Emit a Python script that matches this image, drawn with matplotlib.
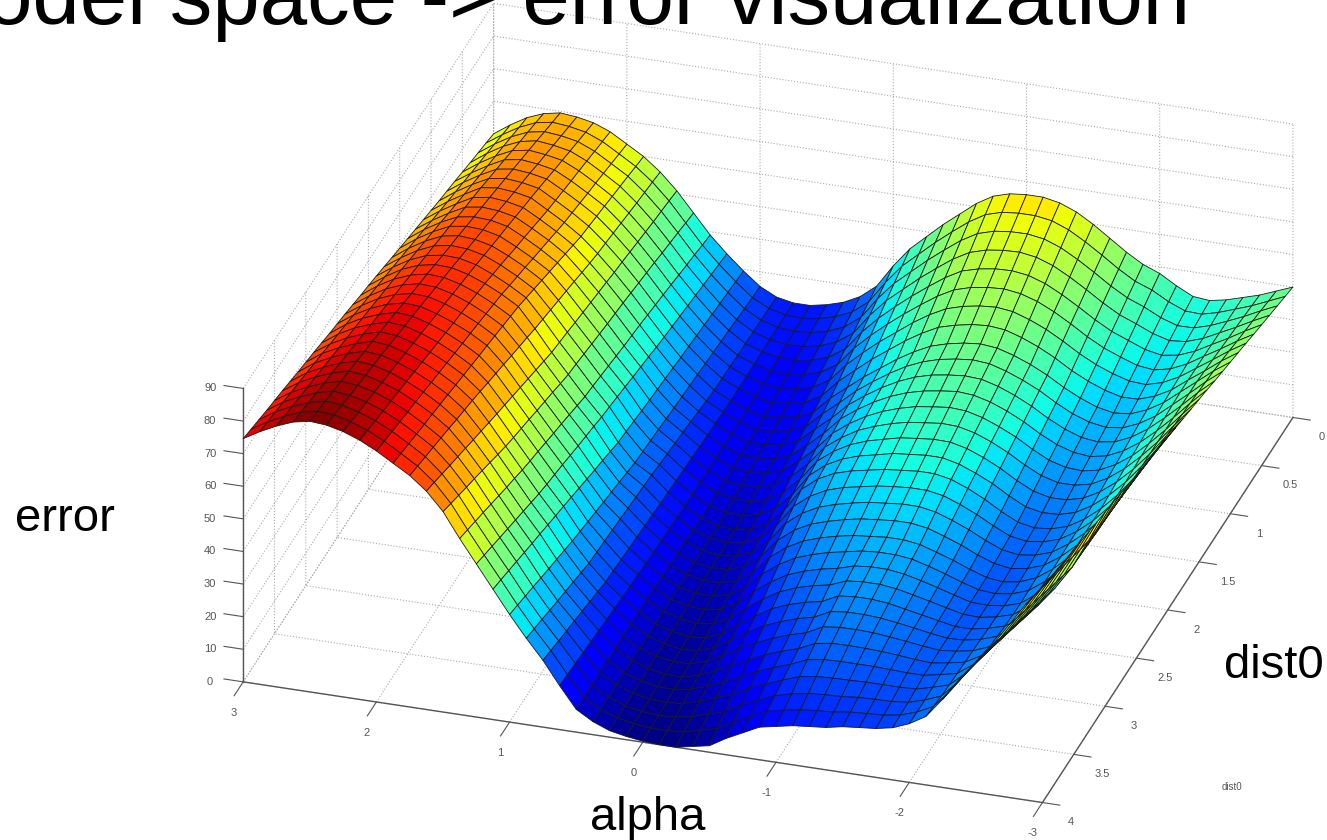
import numpy as np
import matplotlib
matplotlib.use("Agg")
import matplotlib.pyplot as plt

W, H = 1327, 840

alpha = [3 - 0.125 * i for i in range(49)]
dist0 = [0.125 * i for i in range(33)]
alpha_ticks = [-3, -2, -1, 0, 1, 2, 3]
dist_ticks = [0, 0.5, 1, 1.5, 2, 2.5, 3, 3.5, 4]
dist_labels = ['0', '0.5', '1', '1.5', '2', '2.5', '3', '3.5', '4']
error_ticks = [0, 10, 20, 30, 40, 50, 60, 70, 80, 90]

# one row per dist0 value, columns run along alpha from 3 to -3
error_values = [
    [50, 53.5, 56.5, 58.5, 59.5, 59, 58, 56, 53, 50, 46, 41, 35, 29, 24, 19.5, 15.5, 13, 12, 12, 13, 14.5, 17, 21, 28, 34, 38.5, 43, 47, 51, 54, 55.5, 56, 56, 55, 53, 50, 46.5, 43, 40, 38, 35, 32.5, 32, 33, 34.5, 36, 38, 40],
    [50.8, 54.2, 57.2, 59.4, 60.3, 59.8, 58.8, 56.7, 53.7, 50.6, 46.6, 41.6, 35.6, 29.6, 24.5, 19.9, 15.8, 13.2, 12, 11.7, 12.4, 13.8, 16, 19.9, 26.6, 32.4, 36.8, 41.2, 45.2, 49, 52, 53.5, 54, 54, 53.2, 51.2, 48.3, 45, 41.5, 38.5, 36.6, 33.8, 31.7, 31.5, 32.8, 34.6, 36.4, 38.6, 40.8],
    [51.5, 55, 58, 60.2, 61.1, 60.6, 59.6, 57.4, 54.4, 51.3, 47.1, 42.1, 36.3, 30.3, 25, 20.3, 16.1, 13.3, 11.9, 11.4, 11.8, 13, 15.1, 18.8, 25.3, 30.8, 35.1, 39.4, 43.3, 47, 49.9, 51.4, 52, 52.1, 51.3, 49.4, 46.6, 43.4, 40, 37.1, 35.1, 32.6, 30.9, 31, 32.5, 34.6, 36.8, 39.3, 41.6],
    [52.2, 55.8, 58.8, 61, 62, 61.4, 60.4, 58.1, 55.1, 51.9, 47.6, 42.6, 36.9, 30.9, 25.5, 20.6, 16.4, 13.4, 11.8, 11.1, 11.2, 12.2, 14.2, 17.6, 23.9, 29.2, 33.4, 37.6, 41.4, 45, 47.8, 49.3, 50, 50.2, 49.4, 47.6, 44.9, 41.8, 38.5, 35.6, 33.6, 31.4, 30, 30.5, 32.2, 34.7, 37.2, 39.9, 42.4],
    [53, 56.5, 59.5, 61.9, 62.8, 62.2, 61.2, 58.8, 55.8, 52.5, 48.2, 43.2, 37.5, 31.5, 26, 21, 16.8, 13.5, 11.8, 10.8, 10.5, 11.5, 13.2, 16.5, 22.5, 27.5, 31.8, 35.8, 39.5, 43, 45.8, 47.2, 48, 48.2, 47.5, 45.8, 43.2, 40.2, 37, 34.2, 32.2, 30.2, 29.2, 30, 32, 34.8, 37.5, 40.5, 43.2],
    [53.8, 57.2, 60.2, 62.8, 63.6, 63, 62, 59.4, 56.4, 53.2, 48.8, 43.8, 38.2, 32.2, 26.5, 21.4, 17.1, 13.6, 11.7, 10.4, 9.9, 10.8, 12.3, 15.4, 21.2, 25.9, 30.1, 34, 37.6, 41, 43.7, 45.2, 46, 46.3, 45.6, 44, 41.6, 38.7, 35.5, 32.8, 30.8, 29, 28.4, 29.5, 31.8, 34.9, 37.9, 41.1, 44],
    [54.5, 58, 61, 63.6, 64.4, 63.9, 62.9, 60.1, 57.1, 53.8, 49.4, 44.4, 38.8, 32.8, 27, 21.8, 17.4, 13.8, 11.6, 10.1, 9.3, 10, 11.4, 14.3, 19.8, 24.3, 28.4, 32.1, 35.8, 39, 41.6, 43.1, 44, 44.4, 43.8, 42.1, 39.9, 37.1, 34, 31.4, 29.4, 27.9, 27.6, 29, 31.5, 34.9, 38.3, 41.8, 44.9],
    [55.2, 58.8, 61.8, 64.4, 65.2, 64.7, 63.7, 60.8, 57.8, 54.4, 50, 45, 39.4, 33.4, 27.5, 22.2, 17.7, 13.9, 11.6, 9.8, 8.6, 9.2, 10.4, 13.2, 18.4, 22.6, 26.7, 30.3, 33.9, 37, 39.6, 41, 42, 42.4, 41.9, 40.3, 38.2, 35.6, 32.5, 30, 28, 26.7, 26.8, 28.5, 31.2, 35, 38.6, 42.4, 45.7],
    [56, 59.5, 62.5, 65.3, 66, 65.5, 64.5, 61.5, 58.5, 55, 50.5, 45.5, 40, 34, 28, 22.5, 18, 14, 11.5, 9.5, 8, 8.5, 9.5, 12, 17, 21, 25, 28.5, 32, 35, 37.5, 39, 40, 40.5, 40, 38.5, 36.5, 34, 31, 28.5, 26.5, 25.5, 26, 28, 31, 35, 39, 43, 46.5],
    [56.8, 60.3, 63.3, 66, 66.8, 66.3, 65.2, 62.4, 59.4, 56, 51.3, 46.2, 40.6, 34.6, 28.6, 23, 18.3, 14.4, 11.7, 9.5, 7.8, 8, 8.9, 11.2, 15.9, 20, 24.4, 28, 31.3, 34.2, 36.4, 37.9, 38.8, 39.3, 38.9, 37.4, 35.4, 33, 30, 27.4, 25.6, 24.8, 25.4, 27.5, 30.6, 34.8, 39, 43.4, 47.3],
    [57.6, 61.1, 64.1, 66.7, 67.5, 67.1, 66, 63.3, 60.4, 57, 52.1, 46.8, 41.1, 35.1, 29.3, 23.4, 18.6, 14.9, 11.9, 9.5, 7.6, 7.6, 8.3, 10.4, 14.8, 19, 23.8, 27.4, 30.6, 33.3, 35.4, 36.8, 37.6, 38.1, 37.8, 36.4, 34.4, 31.9, 28.9, 26.4, 24.6, 24, 24.8, 27, 30.3, 34.5, 39, 43.8, 48.1],
    [58.4, 62, 65, 67.4, 68.2, 67.9, 66.8, 64.2, 61.3, 58, 53, 47.4, 41.6, 35.6, 29.9, 23.8, 18.9, 15.4, 12, 9.5, 7.4, 7.2, 7.6, 9.6, 13.6, 18, 23.2, 26.8, 29.9, 32.4, 34.3, 35.6, 36.4, 37, 36.6, 35.3, 33.3, 30.8, 27.8, 25.3, 23.7, 23.2, 24.2, 26.5, 29.9, 34.2, 39, 44.2, 49],
    [59.2, 62.8, 65.8, 68.2, 69, 68.7, 67.5, 65, 62.2, 59, 53.8, 48, 42.2, 36.2, 30.5, 24.2, 19.2, 15.8, 12.2, 9.5, 7.2, 6.8, 7, 8.8, 12.5, 17, 22.5, 26.2, 29.2, 31.5, 33.2, 34.5, 35.2, 35.8, 35.5, 34.2, 32.2, 29.8, 26.8, 24.2, 22.8, 22.5, 23.5, 26, 29.5, 34, 39, 44.5, 49.8],
    [60, 63.6, 66.6, 68.9, 69.8, 69.4, 68.2, 65.9, 63.2, 60, 54.6, 48.6, 42.8, 36.8, 31.2, 24.6, 19.6, 16.2, 12.4, 9.5, 7, 6.4, 6.4, 8, 11.4, 16, 21.9, 25.6, 28.6, 30.6, 32.2, 33.4, 34, 34.6, 34.4, 33.2, 31.2, 28.7, 25.7, 23.2, 21.8, 21.8, 22.9, 25.5, 29.2, 33.8, 39, 44.9, 50.6],
    [60.9, 64.4, 67.4, 69.6, 70.5, 70.2, 69, 66.8, 64.1, 61, 55.4, 49.3, 43.4, 37.4, 31.8, 25.1, 19.9, 16.6, 12.6, 9.5, 6.9, 5.9, 5.8, 7.1, 10.3, 15, 21.3, 25.1, 27.9, 29.8, 31.1, 32.3, 32.9, 33.4, 33.3, 32.1, 30.1, 27.6, 24.6, 22.1, 20.9, 21, 22.3, 25, 28.8, 33.5, 39, 45.3, 51.4],
    [61.7, 65.2, 68.2, 70.3, 71.2, 71, 69.8, 67.6, 65, 62, 56.2, 49.9, 44, 38, 32.4, 25.6, 20.2, 17, 12.8, 9.5, 6.7, 5.4, 5.2, 6.3, 9.2, 14, 20.6, 24.6, 27.2, 28.9, 30, 31.2, 31.7, 32.2, 32.2, 31, 29, 26.6, 23.6, 21, 20, 20.2, 21.6, 24.5, 28.4, 33.2, 39, 45.6, 52.2],
    [62.5, 66, 69, 71, 72, 71.8, 70.5, 68.5, 66, 63, 57, 50.5, 44.5, 38.5, 33, 26, 20.5, 17.5, 13, 9.5, 6.5, 5, 4.5, 5.5, 8, 13, 20, 24, 26.5, 28, 29, 30, 30.5, 31, 31, 30, 28, 25.5, 22.5, 20, 19, 19.5, 21, 24, 28, 33, 39, 46, 53],
    [63.2, 66.8, 69.7, 71.7, 72.8, 72.5, 71.2, 69.2, 66.7, 63.7, 58, 51.5, 45.4, 39.4, 33.8, 26.9, 21.2, 17.8, 13.2, 9.7, 6.6, 5, 4.3, 5, 7.3, 12, 18.5, 22.4, 25, 26.6, 27.6, 28.6, 29.2, 29.6, 29.6, 28.7, 26.8, 24.5, 21.8, 19.4, 18.6, 19.2, 20.8, 23.9, 28, 33.2, 39.2, 46.5, 53.8],
    [64, 67.5, 70.4, 72.4, 73.5, 73.2, 71.9, 69.9, 67.4, 64.4, 58.9, 52.5, 46.4, 40.3, 34.5, 27.8, 21.9, 18.1, 13.5, 9.9, 6.8, 4.9, 4.1, 4.6, 6.6, 10.9, 17, 20.9, 23.5, 25.1, 26.3, 27.3, 27.8, 28.3, 28.3, 27.4, 25.6, 23.5, 21, 18.9, 18.1, 18.8, 20.5, 23.8, 28, 33.3, 39.5, 47, 54.6],
    [64.8, 68.2, 71.1, 73.1, 74.2, 74, 72.6, 70.6, 68.1, 65.1, 59.8, 53.5, 47.3, 41.2, 35.2, 28.6, 22.6, 18.4, 13.8, 10, 6.9, 4.8, 4, 4.2, 5.9, 9.8, 15.5, 19.4, 22, 23.6, 24.9, 25.9, 26.4, 26.9, 26.9, 26.1, 24.4, 22.5, 20.2, 18.4, 17.6, 18.4, 20.2, 23.6, 28, 33.4, 39.8, 47.5, 55.4],
    [65.5, 69, 71.8, 73.8, 75, 74.7, 73.2, 71.2, 68.8, 65.8, 60.8, 54.5, 48.2, 42, 36, 29.5, 23.2, 18.8, 14, 10.2, 7, 4.8, 3.8, 3.8, 5.2, 8.8, 14, 17.8, 20.5, 22.2, 23.5, 24.5, 25, 25.5, 25.5, 24.8, 23.2, 21.5, 19.5, 17.8, 17.2, 18, 20, 23.5, 28, 33.5, 40, 48, 56.2],
    [66.2, 69.8, 72.5, 74.4, 75.8, 75.4, 73.9, 71.9, 69.4, 66.4, 61.7, 55.5, 49.2, 42.9, 36.8, 30.4, 23.9, 19.1, 14.2, 10.4, 7.2, 4.7, 3.6, 3.4, 4.6, 7.7, 12.5, 16.2, 19, 20.8, 22.2, 23.2, 24.2, 24.6, 24.6, 24, 22.6, 21, 19.2, 17.7, 17.3, 18, 19.8, 23.4, 28, 33.6, 40.2, 48.5, 57],
    [67, 70.5, 73.2, 75.1, 76.5, 76.1, 74.6, 72.6, 70.1, 67.1, 62.6, 56.5, 50.1, 43.8, 37.5, 31.3, 24.6, 19.4, 14.5, 10.6, 7.3, 4.6, 3.4, 2.9, 3.9, 6.6, 11, 14.6, 17.5, 19.4, 20.8, 21.8, 23.3, 23.8, 23.8, 23.1, 21.9, 20.5, 19, 17.6, 17.4, 18, 19.6, 23.3, 28, 33.8, 40.5, 49, 57.9],
    [67.8, 71.2, 73.8, 75.8, 77.2, 76.8, 75.3, 73.3, 70.8, 67.8, 63.6, 57.5, 51, 44.6, 38.2, 32.2, 25.3, 19.7, 14.8, 10.8, 7.4, 4.6, 3.2, 2.4, 3.2, 5.6, 9.5, 13, 16, 18, 19.4, 20.4, 22.4, 22.9, 22.9, 22.3, 21.2, 20, 18.8, 17.6, 17.4, 18.3, 19.8, 23.2, 28, 33.9, 40.8, 49.5, 58.7],
    [68.5, 72, 74.5, 76.5, 78, 77.5, 76, 74, 71.5, 68.5, 64.5, 58.5, 52, 45.5, 39, 33, 26, 20, 15, 11, 7.5, 4.5, 3, 2, 2.5, 4.5, 8, 11.5, 14.5, 16.5, 18, 19, 21.5, 22, 22, 21.5, 20.5, 19.5, 18.5, 17.5, 17.5, 18.5, 20, 23, 28, 34, 41, 50, 59.5],
    [69.2, 72.7, 75.2, 77.2, 78.6, 78.2, 76.7, 74.7, 72.2, 69.2, 65.3, 59.6, 53.2, 46.6, 40, 33.9, 26.9, 20.8, 15.7, 11.3, 7.4, 4.4, 2.9, 1.9, 2.2, 4, 7, 10.2, 13, 15, 16.7, 17.9, 20.4, 21, 21, 20.7, 20, 19.2, 18.3, 17.6, 17.8, 18.8, 20.5, 24.4, 29.5, 35.5, 42.5, 51.2, 60.3],
    [70, 73.4, 75.9, 77.9, 79.3, 78.8, 77.4, 75.4, 72.9, 69.9, 66.1, 60.6, 54.4, 47.6, 41, 34.8, 27.8, 21.6, 16.4, 11.6, 7.4, 4.4, 2.8, 1.8, 1.9, 3.4, 6, 8.9, 11.4, 13.6, 15.4, 16.8, 19.4, 20, 20.1, 19.9, 19.4, 18.8, 18.1, 17.6, 18.1, 19, 21, 25.8, 31, 37, 44, 52.5, 61.1],
    [70.8, 74.1, 76.6, 78.6, 79.9, 79.4, 78, 76.1, 73.6, 70.6, 67, 61.7, 55.6, 48.7, 42, 35.6, 28.6, 22.4, 17.1, 11.9, 7.3, 4.3, 2.6, 1.6, 1.6, 2.8, 5, 7.6, 9.8, 12.2, 14.1, 15.6, 18, 18.8, 18.9, 18.8, 18.6, 18.2, 17.7, 17.4, 18.2, 19.2, 22, 27.2, 32.5, 38.5, 45.5, 53.8, 62],
    [71.5, 74.8, 77.2, 79.2, 80.5, 80, 78.7, 76.8, 74.2, 71.2, 67.8, 62.8, 56.8, 49.8, 43, 36.5, 29.5, 23.2, 17.8, 12.2, 7.2, 4.2, 2.5, 1.5, 1.4, 2.2, 4, 6.2, 8.2, 10.8, 12.8, 14.5, 16.7, 17.5, 17.7, 17.7, 17.7, 17.5, 17.3, 17.3, 18.3, 19.4, 23, 28.5, 34, 40, 47, 55, 62.8],
    [72.2, 75.5, 77.9, 79.9, 81.2, 80.6, 79.4, 77.4, 74.9, 71.9, 68.6, 63.8, 57.9, 50.9, 44, 37.4, 30.4, 24, 18.4, 12.6, 7.2, 4.2, 2.4, 1.4, 1.1, 1.6, 3, 4.9, 6.6, 9.4, 11.4, 13.4, 15.2, 16, 16.3, 16.4, 16.6, 16.6, 16.6, 16.8, 18.1, 19.6, 24, 29.9, 35.5, 41.5, 48.5, 56.2, 63.6],
    [73, 76.2, 78.6, 80.6, 81.8, 81.3, 80, 78.1, 75.6, 72.6, 69.4, 64.9, 59.1, 51.9, 45, 38.3, 31.3, 24.9, 19.1, 12.9, 7.1, 4.1, 2.3, 1.3, 0.8, 1.1, 2, 3.6, 5.1, 7.9, 10.1, 12.3, 13.6, 14.5, 14.9, 15.1, 15.6, 15.8, 15.9, 16.4, 17.9, 19.9, 25, 31.3, 37, 43, 50, 57.5, 64.4],
    [73.8, 76.8, 79.3, 81.3, 82.4, 82, 80.7, 78.8, 76.3, 73.3, 70.2, 66, 60.3, 53, 46, 39.2, 32.2, 25.7, 19.8, 13.2, 7, 4, 2.2, 1.2, 0.6, 0.6, 1, 2.3, 3.6, 6.4, 8.8, 11.2, 12.3, 13.2, 13.7, 14, 14.8, 15.1, 15.4, 16.2, 17.9, 20.4, 26, 32.6, 38.5, 44.5, 51.5, 58.8, 65.2],
    [74.6, 77.5, 80, 82, 83, 82.6, 81.4, 79.5, 77, 74, 71, 67, 61.5, 54, 47, 40, 33, 26.5, 20.5, 13.5, 7, 4, 2, 1, 0.3, 0, 0, 1, 2, 5, 7.5, 10, 11, 12, 12.5, 13, 14, 14.5, 15, 16, 18, 21, 27, 34, 40, 46, 53, 60, 66],
]

plt.rcParams['font.family'] = ['Liberation Sans', 'DejaVu Sans']
plt.rcParams['axes.unicode_minus'] = False

fig = plt.figure(figsize=(W / 100, H / 100), dpi=100)
side = 1195
ax = fig.add_axes([154.4 / W, -176.6 / H, side / W, side / H], projection='3d')
ax.patch.set_alpha(0)
ax.set_proj_type('ortho')
ax.view_init(elev=28.8, azim=107.4)
ax.set_box_aspect((838, 838, 335))

xx, yy = np.meshgrid(alpha, dist0)
ax.plot_surface(xx, yy, np.array(error_values), cmap='jet', vmin=0, vmax=83,
                rstride=1, cstride=1, shade=False, edgecolor='#1a1a1a', linewidth=0.6)

ax.set_xlim(-3, 3)
ax.set_ylim(0, 4)
ax.set_zlim(0, 90)
ax.set_xticks(alpha_ticks)
ax.set_yticks(dist_ticks)
ax.set_yticklabels(dist_labels)
ax.set_zticks(error_ticks)
ax.zaxis.set_ticks_position('upper')

# z ticks and their labels should run along alpha only, as in the original view
ax.zaxis._get_tickdir = lambda position: 0
ax.zaxis._axmask = lambda: [True, False, False]

for axis, tick_in, tick_out, pad in ((ax.xaxis, 0.45, 0, 9), (ax.yaxis, 0.27, 0, 8), (ax.zaxis, 0, 0.3, 10.5)):
    axis.set_pane_color((1, 1, 1, 1))
    axis.pane.set_edgecolor('white')
    axis.line.set_color('#555555')
    axis.line.set_linewidth(1.0)
    axis._axinfo['grid'].update(color='#aaaaaa', linewidth=0.8, linestyle=':')
    # the sign of mplot3d's tick direction is flipped on the near edges
    axis._axinfo['tick'].update(color='#555555', inward_factor=tick_in, outward_factor=tick_out)
    axis.set_tick_params(labelsize=8, colors='#555555', pad=pad)


def put_text(x, y, s, **kw):
    fig.text(x / W, 1 - y / H, s, va='baseline', **kw)


put_text(1190, 24, 'Model space -> error visualization', ha='right', fontsize=61.3, color='black')
put_text(15, 531, 'error', ha='left', fontsize=34, color='black')
put_text(648, 830, 'alpha', ha='center', fontsize=34, color='black')
put_text(1224, 678, 'dist0', ha='left', fontsize=34, color='black')
put_text(1232, 790, 'dist0', ha='center', fontsize=7, color='#555555')

fig.savefig('out.png', dpi=100)
